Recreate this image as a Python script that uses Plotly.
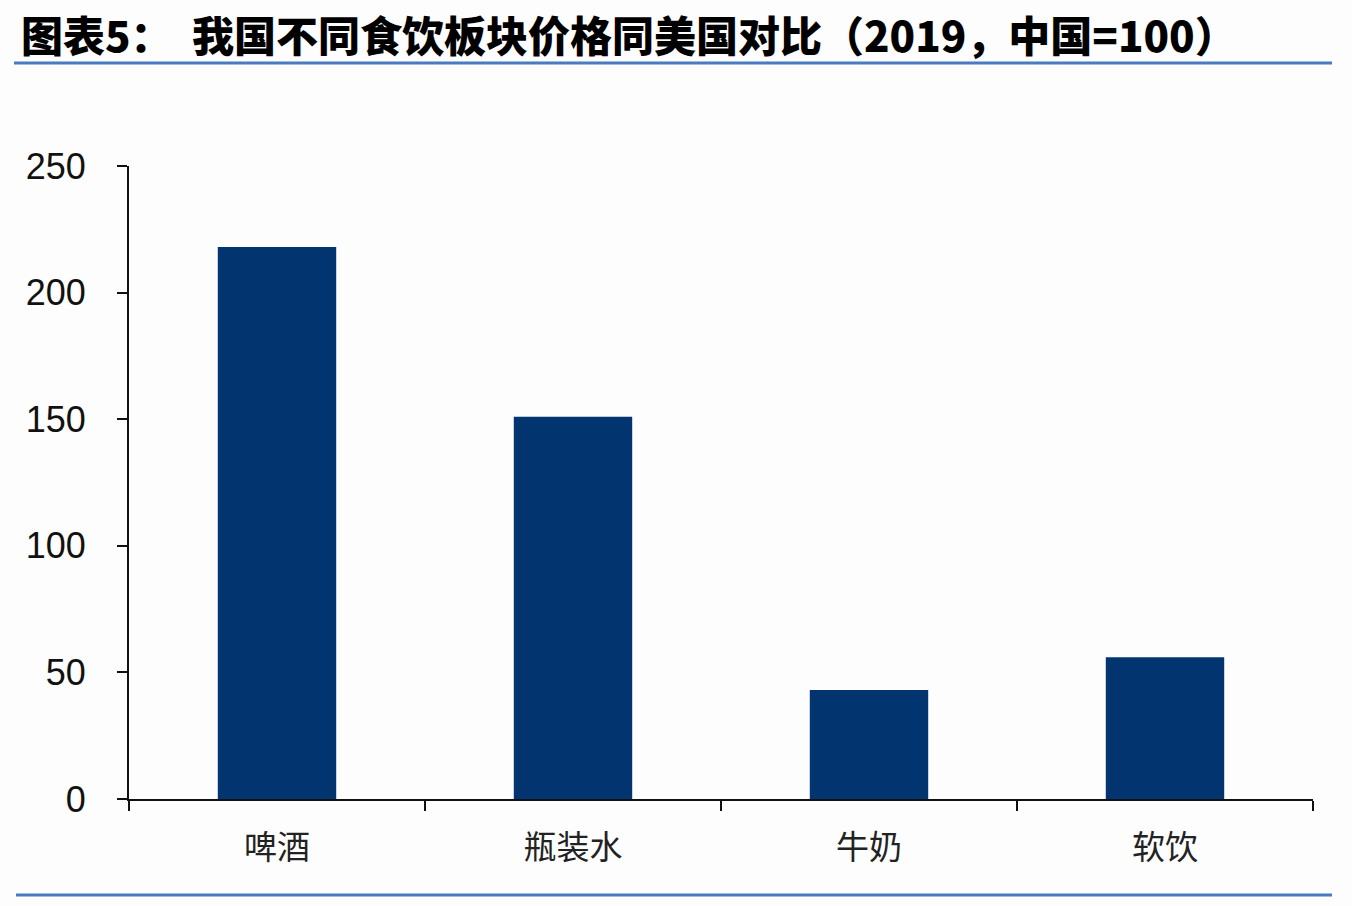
import plotly.graph_objects as go

categories = ["啤酒", "瓶装水", "牛奶", "软饮"]
values = [218, 151, 43, 56]
y_ticks = [0, 50, 100, 150, 200, 250]

title_prefix = "图表5："
title_main = "我国不同食饮板块价格同美国对比（2019，中国=100）"

W, H = 1352, 906
L, R, T, B = 129, 39, 166, 107
pw = W - L - R
ph = H - T - B

def px_x(x):
    return (x - L) / pw

def px_y(y):
    return (H - B - y) / ph

fig = go.Figure()
fig.add_trace(go.Bar(
    x=categories, y=values,
    marker=dict(color="#02346F", line=dict(width=0)),
    width=0.4,
    hoverinfo="x+y",
))

blue = "#4A7BC0"
fig.update_layout(
    width=W, height=H,
    margin=dict(l=L, r=R, t=T, b=B, pad=0),
    paper_bgcolor="#FDFDFD",
    plot_bgcolor="#FDFDFD",
    showlegend=False,
    font=dict(family="Liberation Sans, Arial, sans-serif", color="#111111"),
    xaxis=dict(
        type="category",
        showgrid=False,
        showline=True, linecolor="#111111", linewidth=2,
        ticks="outside", ticklen=10, tickwidth=2, tickcolor="#111111",
        tickson="boundaries",
        tickfont=dict(family="Noto Sans CJK SC", size=33, color="#222222"),
        ticklabelstandoff=18,
        range=[-0.5, 3.5],
        fixedrange=True,
    ),
    yaxis=dict(
        range=[0, 250],
        tickvals=y_ticks,
        showgrid=False, zeroline=False,
        showline=True, linecolor="#111111", linewidth=2,
        ticks="outside", ticklen=10, tickwidth=2, tickcolor="#111111",
        tickfont=dict(family="Liberation Sans, Arial, sans-serif", size=36, color="#111111"),
        ticklabelstandoff=24,
        fixedrange=True,
    ),
    shapes=[
        dict(type="line", xref="paper", yref="paper",
             x0=px_x(14), x1=px_x(1332), y0=px_y(63), y1=px_y(63),
             line=dict(color=blue, width=3)),
        dict(type="line", xref="paper", yref="paper",
             x0=px_x(16), x1=px_x(1332), y0=px_y(895), y1=px_y(895),
             line=dict(color=blue, width=3)),
    ],
    annotations=[
        dict(text=title_prefix, xref="paper", yref="paper",
             x=px_x(19), y=px_y(33), xanchor="left", yanchor="middle",
             showarrow=False,
             font=dict(family="Noto Sans CJK SC", size=42, color="#000000", weight=900)),
        dict(text=title_main, xref="paper", yref="paper",
             x=px_x(190), y=px_y(33), xanchor="left", yanchor="middle",
             showarrow=False,
             font=dict(family="Noto Sans CJK SC", size=42, color="#000000", weight=900)),
    ],
)

fig.write_html(
    "out.html",
    config={"displayModeBar": False},
    post_script="document.body.style.margin='0';document.body.style.background='#FDFDFD';",
)
